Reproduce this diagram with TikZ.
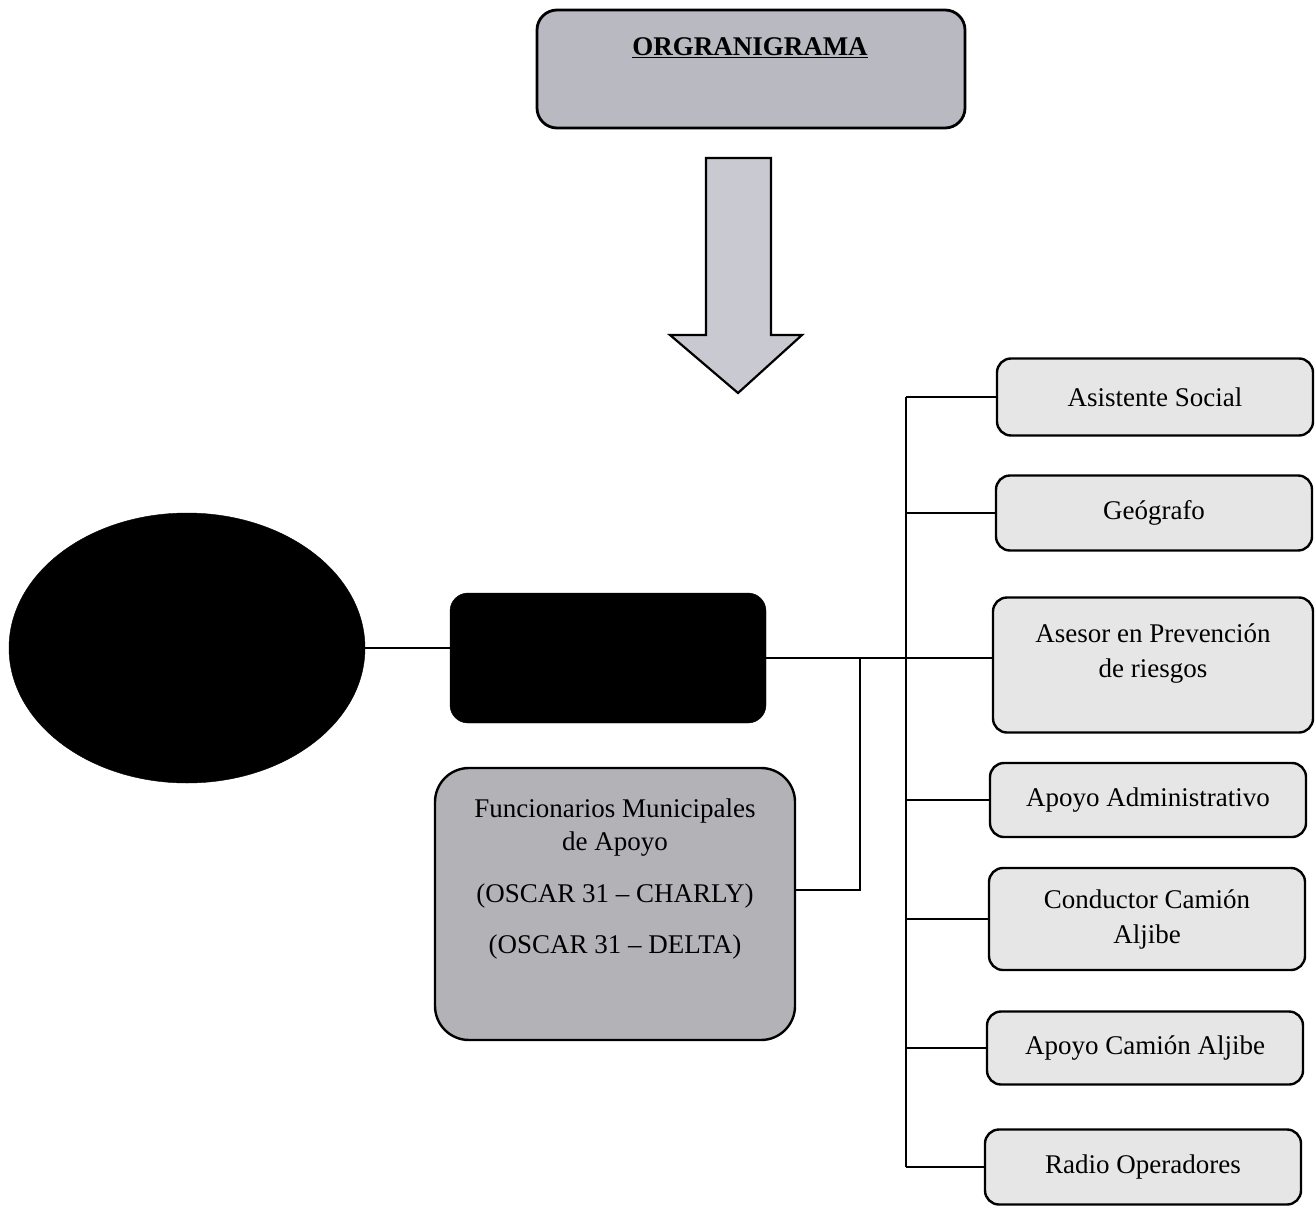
\documentclass[tikz,border=0pt]{standalone}
\usepackage{fontspec}
\setmainfont{Liberation Serif}
\usetikzlibrary{shapes.geometric,calc}
\definecolor{titlegray}{HTML}{B9B9C1}
\definecolor{arrowgray}{HTML}{C9C9D1}
\definecolor{funcgray}{HTML}{B3B3B7}
\definecolor{boxgray}{HTML}{E6E6E6}
\tikzset{
  rbox/.style={draw=black, line width=2.4pt, fill=boxgray, rounded corners=14pt,
    minimum width=316pt, align=center, font=\fontsize{27}{35}\selectfont, inner sep=0pt},
  conn/.style={draw=black, line width=1.6pt},
  blackshape/.style={fill=black, draw=black}
}
\begin{document}
\begin{tikzpicture}[x=1pt,y=-1pt]
\useasboundingbox (0,0) rectangle (1316,1209);
\fill[white] (0,0) rectangle (1316,1209);

% title
\node[draw=black, line width=2.8pt, fill=titlegray, rounded corners=20pt,
      minimum width=428pt, minimum height=118pt] (title) at (751,69) {};
\node[font=\fontsize{27}{32}\selectfont\bfseries] (titletext) at (750,48) {\underline{ORGRANIGRAMA}};

% big arrow
\filldraw[fill=arrowgray, draw=black, line width=2.2pt, line join=miter]
  (706,158) -- (771,158) -- (771,335) -- (802,335) -- (738,393) -- (670,335) -- (706,335) -- cycle;

% ellipse and black box
\node[ellipse, blackshape, minimum width=356pt, minimum height=270pt] (ell) at (187,648) {};
\node[blackshape, rounded corners=18pt, minimum width=316pt, minimum height=130pt] (boss) at (608,658) {};

% funcionarios
\node[draw=black, line width=2.4pt, fill=funcgray, rounded corners=34pt,
      minimum width=360pt, minimum height=272pt, inner sep=0pt] (func) at (615,904) {};
\node[align=center, font=\fontsize{27}{33}\selectfont, anchor=north] (functext) at (615,795)
  {Funcionarios Municipales\\de Apoyo\\[19pt](OSCAR 31 -- CHARLY)\\[18pt](OSCAR 31 -- DELTA)};

% right boxes
\node[rbox, minimum height=77pt] (as) at (1155,397) {Asistente Social};
\node[rbox, minimum height=75pt] (geo) at (1154,513) {Geógrafo};
\node[rbox, minimum height=135pt, minimum width=320pt] (ases) at (1153,665) {Asesor en Prevención\\de riesgos\\[-6pt]\mbox{}};
\node[rbox, minimum height=74pt] (adm) at (1148,800) {Apoyo Administrativo};
\node[rbox, minimum height=102pt] (cond) at (1147,919) {Conductor Camión\\Aljibe};
\node[rbox, minimum height=73pt] (apc) at (1145,1048) {Apoyo Camión Aljibe};
\node[rbox, minimum height=75pt] (radio) at (1143,1167) {Radio Operadores};

% connectors
\coordinate (spine) at (906,0);
\coordinate (jx) at (860,0);
\draw[conn] (ell.east) -- (ell.east -| boss.west);
\draw[conn] (boss.east) -- (boss.east -| ases.west);
\draw[conn] ([yshift=14pt]func.east) -| (boss.east -| jx);
\draw[conn] (as.west -| spine) -- (radio.west -| spine);
\draw[conn] (as.west) -- (as.west -| spine);
\draw[conn] (geo.west) -- (geo.west -| spine);
\draw[conn] (adm.west) -- (adm.west -| spine);
\draw[conn] (cond.west) -- (cond.west -| spine);
\draw[conn] (apc.west) -- (apc.west -| spine);
\draw[conn] (radio.west) -- (radio.west -| spine);
\end{tikzpicture}
\end{document}
